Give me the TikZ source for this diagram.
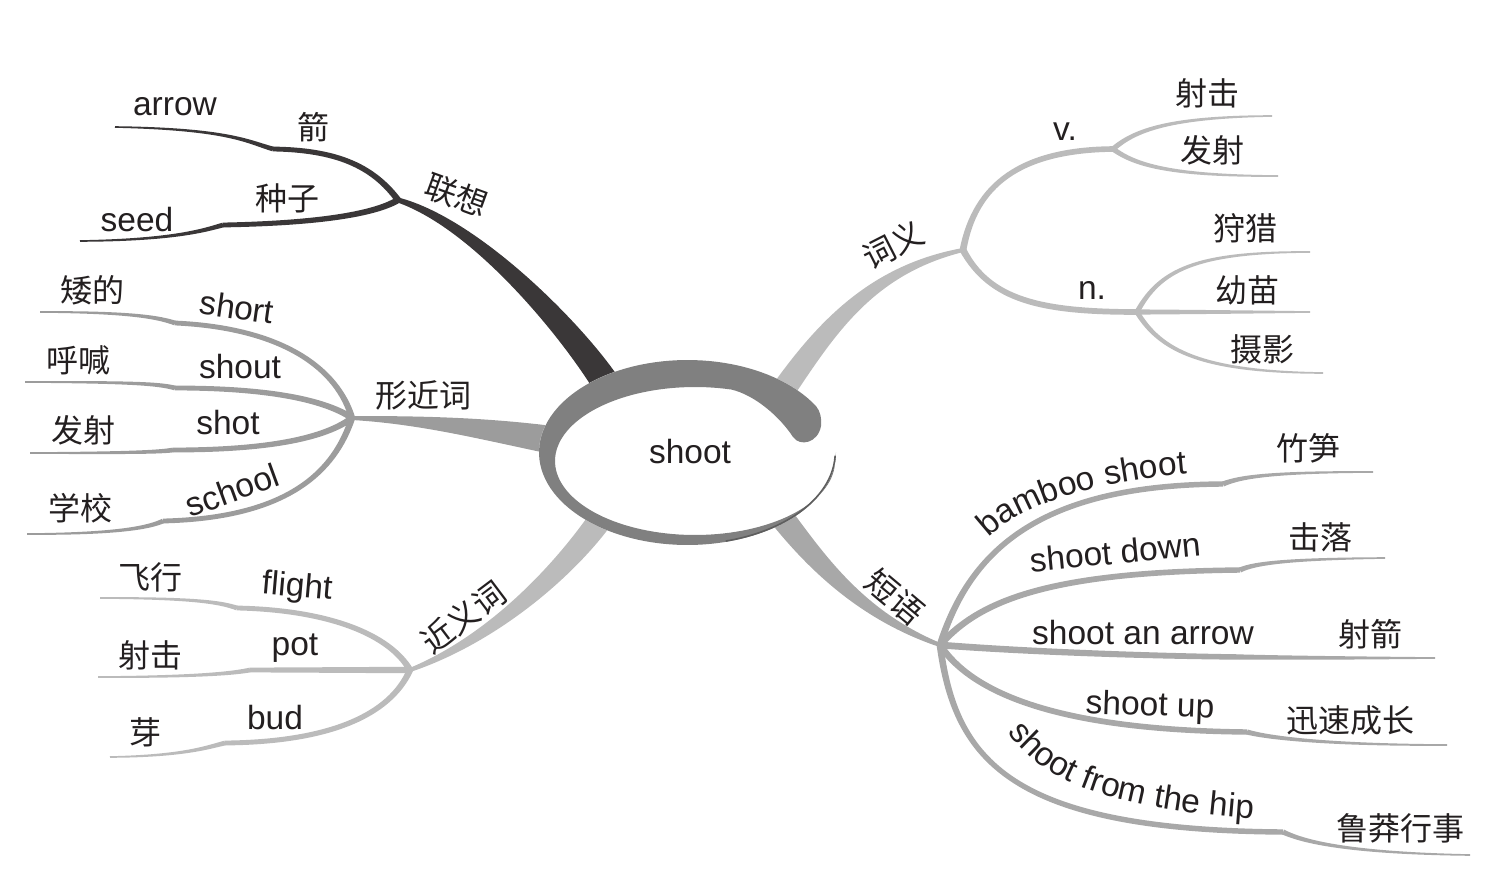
\documentclass[tikz,border=0pt]{standalone}
\usepackage{fontspec}
\setmainfont{Liberation Sans}
\newfontfamily\cjk{Noto Sans CJK SC}
\usetikzlibrary{calc,decorations.text}
\definecolor{txt}{HTML}{231F20}
\definecolor{darkc}{HTML}{3A3738}
\definecolor{xjc}{HTML}{9C9C9C}
\definecolor{jyc}{HTML}{BBBBBB}
\definecolor{cyc}{HTML}{BBBBBB}
\definecolor{dyc}{HTML}{A8A8A8}
\definecolor{ringc}{HTML}{808080}
\definecolor{ringd}{HTML}{5E5E5E}
\newcommand\enf{\fontsize{33.5}{40}\selectfont}
\newcommand\zhf{\cjk\fontsize{32}{38}\selectfont}
% tapered branch: colour, P0, P1, P2, P3, half widths at P0, P1, P2, P3
\newcommand\taper[9]{\fill[#1] ($#2!#6!90:#3$) .. controls ($#3!#7!90:#4$) and ($#4!#8!90:#5$) .. ($#5!#9!-90:#4$) -- ($#5!#9!90:#4$) .. controls ($#4!#8!-90:#5$) and ($#3!#7!-90:#4$) .. ($#2!#6!-90:#3$) -- cycle;}
\begin{document}
\begin{tikzpicture}[x=1pt,y=-1pt,
  en/.style={text=txt,font=\enf,inner sep=0pt},
  zh/.style={text=txt,font=\zhf,inner sep=0pt}]
\useasboundingbox (0,0) rectangle (1503,888);

% forks
\coordinate (F1) at (398,200);
\coordinate (F2) at (352,418);
\coordinate (F3) at (410,670);
\coordinate (F4) at (963,250);
\coordinate (F5) at (1113,149);
\coordinate (F7) at (1137,312);
\coordinate (F6) at (940,645);

% main branches
\taper{darkc}{(610,390)}{(580,340)}{(480,225)}{(F1)}{14pt}{13pt}{6pt}{2.5pt}
\taper{xjc}{(552,440)}{(480,428)}{(420,420)}{(F2)}{14pt}{11pt}{4pt}{2pt}
\taper{jyc}{(600,520)}{(560,575)}{(490,640)}{(F3)}{12pt}{11pt}{5pt}{2pt}
\taper{cyc}{(780,395)}{(825,330)}{(870,270)}{(F4)}{12pt}{11pt}{5pt}{2pt}
\taper{dyc}{(780,515)}{(815,560)}{(860,615)}{(F6)}{12pt}{11pt}{5pt}{2pt}

% 联想 sub-branches
\coordinate (J1a) at (273,149); \coordinate (E1a) at (115,127);
\coordinate (J1b) at (223,225); \coordinate (E1b) at (80,241);
\taper{darkc}{(F1)}{(372,165)}{(335,150)}{(J1a)}{3.2pt}{3pt}{2.6pt}{2.4pt}
\taper{darkc}{(J1a)}{(248,142)}{(230,129)}{(E1a)}{2.4pt}{2pt}{1.4pt}{0.8pt}
\taper{darkc}{(F1)}{(378,212)}{(330,223)}{(J1b)}{3.2pt}{3pt}{2.6pt}{2.4pt}
\taper{darkc}{(J1b)}{(205,230)}{(175,240)}{(E1b)}{2.4pt}{2pt}{1.4pt}{0.8pt}

% 形近词 sub-branches
\coordinate (J2a) at (175,323); \coordinate (E2a) at (40,312);
\coordinate (J2b) at (175,388); \coordinate (E2b) at (25,382);
\coordinate (J2c) at (173,450); \coordinate (E2c) at (30,453);
\coordinate (J2d) at (163,521); \coordinate (E2d) at (27,534);
\taper{xjc}{(F2)}{(338,370)}{(285,328)}{(J2a)}{3.2pt}{3pt}{2.6pt}{2.4pt}
\taper{xjc}{(J2a)}{(160,318)}{(135,312)}{(E2a)}{2.4pt}{2pt}{1.4pt}{0.8pt}
\taper{xjc}{(F2)}{(325,400)}{(270,388)}{(J2b)}{3.2pt}{3pt}{2.6pt}{2.4pt}
\taper{xjc}{(J2b)}{(160,384)}{(135,382)}{(E2b)}{2.4pt}{2pt}{1.4pt}{0.8pt}
\taper{xjc}{(F2)}{(325,438)}{(270,450)}{(J2c)}{3.2pt}{3pt}{2.6pt}{2.4pt}
\taper{xjc}{(J2c)}{(160,452)}{(130,453)}{(E2c)}{2.4pt}{2pt}{1.4pt}{0.8pt}
\taper{xjc}{(F2)}{(335,470)}{(290,518)}{(J2d)}{3.2pt}{3pt}{2.6pt}{2.4pt}
\taper{xjc}{(J2d)}{(150,527)}{(120,534)}{(E2d)}{2.4pt}{2pt}{1.4pt}{0.8pt}

% 近义词 sub-branches
\coordinate (J3a) at (237,608); \coordinate (E3a) at (100,598);
\coordinate (J3b) at (250,670); \coordinate (E3b) at (98,677);
\coordinate (J3c) at (225,743); \coordinate (E3c) at (110,757);
\taper{jyc}{(F3)}{(390,635)}{(330,610)}{(J3a)}{3.2pt}{3pt}{2.6pt}{2.4pt}
\taper{jyc}{(J3a)}{(222,603)}{(200,598)}{(E3a)}{2.4pt}{2pt}{1.4pt}{0.8pt}
\taper{jyc}{(F3)}{(360,670)}{(300,670)}{(J3b)}{3.2pt}{3pt}{2.6pt}{2.4pt}
\taper{jyc}{(J3b)}{(235,673)}{(200,677)}{(E3b)}{2.4pt}{2pt}{1.4pt}{0.8pt}
\taper{jyc}{(F3)}{(390,715)}{(330,742)}{(J3c)}{3.2pt}{3pt}{2.6pt}{2.4pt}
\taper{jyc}{(J3c)}{(208,747)}{(185,756)}{(E3c)}{2.4pt}{2pt}{1.4pt}{0.8pt}

% 词义 sub-branches
\coordinate (E4a) at (1272,116); \coordinate (E4b) at (1278,176);
\coordinate (E4c) at (1310,252); \coordinate (E4d) at (1310,312);
\coordinate (E4e) at (1323,373);
\taper{cyc}{(F4)}{(975,185)}{(1020,150)}{(F5)}{3.4pt}{3.2pt}{3pt}{2.8pt}
\taper{cyc}{(F4)}{(990,300)}{(1040,312)}{(F7)}{3.4pt}{3.2pt}{3pt}{2.8pt}
\taper{cyc}{(F5)}{(1135,130)}{(1170,117)}{(E4a)}{2.6pt}{2.2pt}{1.6pt}{0.8pt}
\taper{cyc}{(F5)}{(1135,165)}{(1170,176)}{(E4b)}{2.6pt}{2.2pt}{1.6pt}{0.8pt}
\taper{cyc}{(F7)}{(1160,270)}{(1195,252)}{(E4c)}{2.6pt}{2.2pt}{1.6pt}{0.8pt}
\taper{cyc}{(F7)}{(1190,312)}{(1250,312)}{(E4d)}{2.6pt}{2.2pt}{1.6pt}{0.8pt}
\taper{cyc}{(F7)}{(1160,350)}{(1200,372)}{(E4e)}{2.6pt}{2.2pt}{1.6pt}{0.8pt}

% 短语 sub-branches
\coordinate (J6a) at (1223,484); \coordinate (E6a) at (1373,472);
\coordinate (J6b) at (1240,570); \coordinate (E6b) at (1385,558);
\coordinate (J6c) at (1240,657); \coordinate (E6c) at (1435,658);
\coordinate (J6d) at (1247,732); \coordinate (E6d) at (1447,745);
\coordinate (J6e) at (1283,832); \coordinate (E6e) at (1470,855);
\taper{dyc}{(F6)}{(970,550)}{(1040,485)}{(J6a)}{3.4pt}{3.2pt}{3pt}{2.7pt}
\taper{dyc}{(J6a)}{(1240,477)}{(1270,472)}{(E6a)}{2.6pt}{2pt}{1.4pt}{0.8pt}
\taper{dyc}{(F6)}{(980,600)}{(1050,572)}{(J6b)}{3.4pt}{3.2pt}{3pt}{2.7pt}
\taper{dyc}{(J6b)}{(1255,563)}{(1290,559)}{(E6b)}{2.6pt}{2pt}{1.4pt}{0.8pt}
\taper{dyc}{(F6)}{(1030,652)}{(1150,656)}{(J6c)}{3.4pt}{3.2pt}{3pt}{2.7pt}
\taper{dyc}{(J6c)}{(1300,658)}{(1380,658)}{(E6c)}{2.6pt}{2pt}{1.4pt}{0.8pt}
\taper{dyc}{(F6)}{(970,690)}{(1050,730)}{(J6d)}{3.4pt}{3.2pt}{3pt}{2.7pt}
\taper{dyc}{(J6d)}{(1265,737)}{(1320,745)}{(E6d)}{2.6pt}{2pt}{1.4pt}{0.8pt}
\taper{dyc}{(F6)}{(955,760)}{(1010,830)}{(J6e)}{3.4pt}{3.2pt}{3pt}{2.7pt}
\taper{dyc}{(J6e)}{(1300,840)}{(1340,853)}{(E6e)}{2.6pt}{2pt}{1.4pt}{0.8pt}

% central ring
\fill[white] (687.5,452.5) ellipse [x radius=148.5, y radius=92.5];
\fill[ringc] (731.2,389.5) .. controls (755,395) and (780,417) .. (793,437)
  .. controls (800,447) and (818,443) .. (821,426)
  .. controls (822,418) and (820,411) .. (816.1,406.25)
  -- plot[domain=0:330,samples=110] ({687.5+148.5*cos(-30-\x)},{452.5+92.5*sin(-30-\x)})
  -- plot[domain=0:285,samples=110] ({695+140*cos(\x)},{461+74*sin(\x)}) -- cycle;
\draw[ringd,line width=1.6pt] plot[domain=2:75,samples=40] ({687.5+147.7*cos(\x)},{452.5+91.7*sin(\x)});
\node[en] (root) at (690,452) {shoot};

% main labels
\node[zh,rotate=-20] (lx) at (457,195) {联想};
\node[zh] (xjc) at (423,395) {形近词};
\node[zh,rotate=37] (jyc) at (463,617) {近义词};
\node[zh,rotate=27] (cy) at (893,245) {词义};
\node[zh,rotate=-40] (dy) at (895,597) {短语};

% 联想 labels
\node[en] (t-arrow) at (175,107) {arrow};
\node[zh] (t-jian) at (313,127) {箭};
\node[zh] (t-zz) at (287,198) {种子};
\node[en] (t-seed) at (137,220) {seed};

% 形近词 labels
\node[zh] (t-ad) at (92,290) {矮的};
\node[en,rotate=-8] (t-short) at (237,307) {short};
\node[zh] (t-hh) at (78,360) {呼喊};
\node[en] (t-shout) at (240,367) {shout};
\node[zh] (t-fs1) at (83,430) {发射};
\node[en] (t-shot) at (228,423) {shot};
\node[zh] (t-xx) at (80,508) {学校};
\node[en,rotate=20] (t-school) at (232,490) {school};

% 近义词 labels
\node[zh] (t-fx) at (150,577) {飞行};
\node[en,rotate=-5] (t-flight) at (297,588) {flight};
\node[zh] (t-sj1) at (150,655) {射击};
\node[en] (t-pot) at (295,648) {pot};
\node[zh] (t-ya) at (145,732) {芽};
\node[en] (t-bud) at (275,718) {bud};

% 词义 labels
\node[en] (t-v) at (1065,132) {v.};
\node[zh] (t-sj2) at (1207,93) {射击};
\node[zh] (t-fs2) at (1212,150) {发射};
\node[en] (t-n) at (1092,290) {n.};
\node[zh] (t-sl) at (1245,228) {狩猎};
\node[zh] (t-ym) at (1247,290) {幼苗};
\node[zh] (t-sy) at (1262,349) {摄影};

% 短语 labels
\path[decorate,decoration={text along path,text={|\enf|bamboo shoot},text color=txt,text align=center}]
  (980,548) .. controls (1002,518) and (1062,483) .. (1200,473);
\node[zh] (t-zs) at (1308,448) {竹笋};
\node[en,rotate=5.5] (t-down) at (1115,552) {shoot down};
\node[zh] (t-jl) at (1320,537) {击落};
\node[en] (t-sarrow) at (1143,633) {shoot an arrow};
\node[zh] (t-sjian) at (1370,634) {射箭};
\node[en,rotate=-2] (t-up) at (1150,707) {shoot up};
\node[zh] (t-xscz) at (1350,720) {迅速成长};
\path[decorate,decoration={text along path,text={|\enf|shoot from the hip},text color=txt,text align=center}]
  (1003,725) .. controls (1035,775) and (1090,808) .. (1262,819);
\node[zh] (t-lmxs) at (1400,828) {鲁莽行事};
\end{tikzpicture}
\end{document}
